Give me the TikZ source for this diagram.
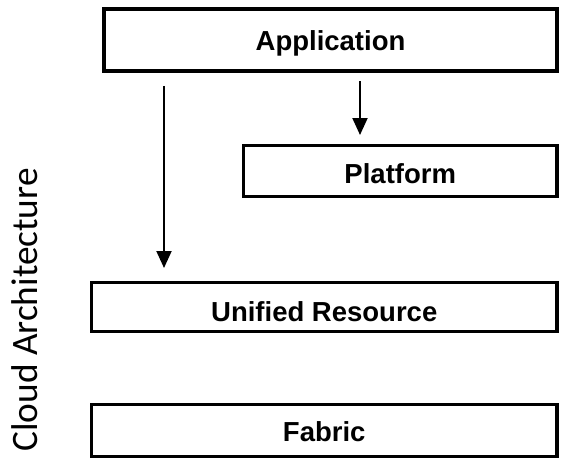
\documentclass[tikz,border=0pt]{standalone}
\usepackage{fontspec}
\setmainfont{Liberation Sans}
\newfontfamily\carlito{Carlito}
\usetikzlibrary{arrows.meta}
\begin{document}
\begin{tikzpicture}[x=1pt,y=-1pt,
  layer/.style={draw,line width=3.5pt,rectangle,inner sep=0pt,outer sep=0pt,
    font=\fontsize{27.5}{30}\selectfont\bfseries,text depth=0pt},
  arr/.style={line width=2pt,-{Triangle[width=15pt,length=17pt]}},
  sidelabel/.style={font=\carlito\fontsize{37.3}{40}\selectfont,rotate=90,anchor=base,inner sep=0pt}]
\fill[white] (0,0) rectangle (588,468);
\useasboundingbox (0,0) rectangle (588,468);
\node[layer,minimum width=453pt,minimum height=62pt,text height=20.7pt] (app) at (330.5,40) {Application};
\node[layer,minimum width=313.5pt,minimum height=51pt,text height=25.7pt] (plat) at (400.25,171) {Platform};
\node[layer,minimum width=465.5pt,minimum height=49pt,text height=29.7pt] (unif) at (324.25,307) {Unified Resource};
\node[layer,minimum width=465.5pt,minimum height=52pt,text height=22.7pt] (fab) at (324.25,430.5) {Fabric};
\draw[arr,shorten <=15pt,shorten >=14.5pt] ([xshift=60pt]app.south west) -- ([xshift=60pt]app.south west |- unif.north);
\draw[arr,shorten <=10.5pt,shorten >=10.5pt] ([xshift=256pt]app.south west) -- ([xshift=256pt]app.south west |- plat.north);
\node[sidelabel] (cloud) at (37,310) {Cloud Architecture};
\end{tikzpicture}
\end{document}
